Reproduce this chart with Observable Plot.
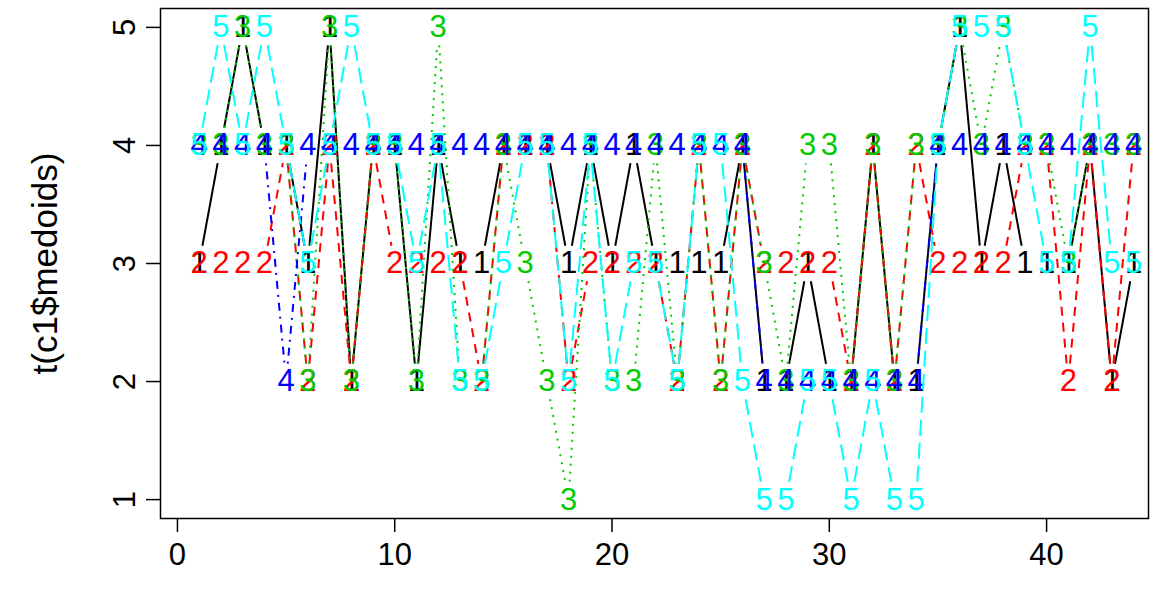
<!DOCTYPE html>
<html><head><meta charset="utf-8">
<script src="https://cdn.jsdelivr.net/npm/d3@7"></script>
<script src="https://cdn.jsdelivr.net/npm/@observablehq/plot@0.6"></script>
<style>body{margin:0;background:#fff}</style>
</head><body><div id="chart"></div>
<script>
// x positions (column index of the matrix)
const xIndex = d3.range(1, 45);
// medoid values per row (series 1..5)
const s1 = [3,4,5,4,4,3,5,2,4,4, 2,4,3,3,4,4,4,3,4,3, 4,3,3,3,3,4,2,2,3,2, 2,4,2,2,4,5,3,4,3,3, 3,4,2,3];
const s2 = [3,3,3,3,4,2,4,2,4,3, 3,3,3,2,4,4,4,2,3,3, 3,3,2,4,2,4,3,3,3,3, 2,4,2,4,3,3,3,3,4,4, 2,4,2,4];
const s3 = [4,4,5,4,4,2,5,2,4,4, 2,5,2,2,4,3,2,1,4,2, 2,4,2,4,2,4,3,2,4,4, 2,4,2,4,4,5,4,5,4,4, 3,4,4,4];
const s4 = [4,4,4,4,2,4,4,4,4,4, 4,4,4,4,4,4,4,4,4,4, 4,4,4,4,4,4,2,2,2,2, 2,2,2,2,4,4,4,4,4,4, 4,4,4,4];
const s5 = [4,5,4,5,4,3,4,5,4,4, 3,4,2,2,3,4,4,2,4,2, 3,3,2,4,4,2,1,1,2,2, 1,2,1,1,4,5,5,5,4,3, 3,5,3,3];
const seriesNames = ["1", "2", "3", "4", "5"];
const seriesValues = [s1, s2, s3, s4, s5];
const xTicks = [0, 10, 20, 30, 40];
const yTicks = [1, 2, 3, 4, 5];
const yLabel = "t(c1$medoids)";

const colors = ["#000000", "#FF0000", "#00CD00", "#0000FF", "#00FFFF"];
const dashes = [undefined, "9,7", "2,6", "2,6,8,6", "16,7"];

const W = 1160, H = 592, mL = 160, mR = 12, mT = 8, mB = 74;
const xDom = [-0.78, 44.69], yDom = [0.84, 5.16];
const pxX = (W - mL - mR) / (xDom[1] - xDom[0]);
const pxY = (H - mT - mB) / (yDom[1] - yDom[0]);
const gap = 18; // px gap around each point label (type = "b")

const points = [], segs = [];
seriesValues.forEach((vals, k) => {
  vals.forEach((v, i) => {
    points.push({x: xIndex[i], y: v, s: k});
    if (i < vals.length - 1) {
      const x0 = xIndex[i], y0 = v, x1 = xIndex[i + 1], y1 = vals[i + 1];
      const L = Math.hypot((x1 - x0) * pxX, (y1 - y0) * pxY);
      if (L > 2 * gap) {
        const t = gap / L;
        segs.push({s: k, x1: x0 + (x1 - x0) * t, y1: y0 + (y1 - y0) * t,
                   x2: x1 - (x1 - x0) * t, y2: y1 - (y1 - y0) * t});
      }
    }
  });
});

const font = 31;
const marks = [];
seriesValues.forEach((vals, k) => {
  marks.push(Plot.link(segs.filter(d => d.s === k), {
    x1: "x1", y1: "y1", x2: "x2", y2: "y2",
    stroke: colors[k], strokeWidth: 2, strokeDasharray: dashes[k]
  }));
  marks.push(Plot.text(points.filter(d => d.s === k), {
    x: "x", y: "y", text: () => seriesNames[k], fill: colors[k], fontSize: font
  }));
});

const chart = Plot.plot({
  width: W, height: H,
  marginLeft: mL, marginRight: mR, marginTop: mT, marginBottom: mB,
  style: {fontFamily: "'Liberation Sans', Arial, Helvetica, sans-serif", background: "#fff", overflow: "visible"},
  x: {domain: xDom},
  y: {domain: yDom},
  marks: [
    ...marks,
    Plot.frame({stroke: "#000", strokeWidth: 1.5}),
    Plot.axisX({ticks: xTicks, tickSize: 14, tickPadding: 10, fontSize: font, strokeWidth: 1.5, tickFormat: d => String(d)}),
    Plot.axisY({ticks: yTicks, tickSize: 14, strokeWidth: 1.5, tickFormat: () => ""}),
    Plot.text(yTicks, {y: d => d, text: d => String(d), frameAnchor: "left", textAnchor: "middle", dx: -35, rotate: -90, fontSize: font, fill: "#000"}),
    Plot.text([yLabel], {frameAnchor: "left", textAnchor: "middle", dx: -115, rotate: -90, fontSize: 35, fill: "#000", text: d => d})
  ]
});
document.getElementById("chart").appendChild(chart);
</script>
</body></html>
